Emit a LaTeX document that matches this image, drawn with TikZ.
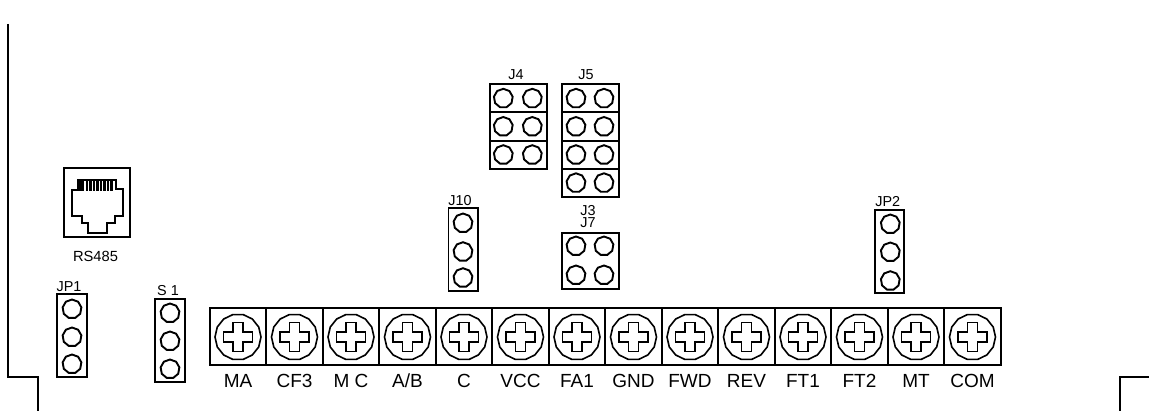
\documentclass[tikz,border=0pt]{standalone}
\usepackage{fontspec}
\setmainfont{Liberation Sans}
\usetikzlibrary{shapes, positioning, calc}
\tikzstyle{outline} = [draw, line width=2pt]
\tikzstyle{header} = [rectangle, draw, line width=1.9pt, inner sep=0pt, outer sep=0pt, minimum width=57pt, minimum height=28.3pt]
\tikzstyle{strip} = [rectangle, draw, line width=1.9pt, inner sep=0pt, outer sep=0pt, minimum width=29.5pt, minimum height=83pt]
\tikzstyle{cell} = [rectangle, draw, line width=1.9pt, inner sep=0pt, outer sep=0pt, minimum width=56.5pt, minimum height=57pt]
\tikzstyle{pin} = [regular polygon, regular polygon sides=9, draw, line width=1.9pt, inner sep=0pt, minimum size=19pt]
\tikzstyle{screw} = [regular polygon, regular polygon sides=14, draw, line width=1.6pt, inner sep=0pt, minimum size=46pt]
\tikzstyle{tiny} = [inner sep=0pt, font=\fontsize{14.4}{14.4}\selectfont, text height=10.3pt, text depth=0pt]
\tikzstyle{term} = [inner sep=0pt, font=\fontsize{19}{19}\selectfont, text height=13.6pt, text depth=0pt]

\begin{document}
\begin{tikzpicture}[x=1pt, y=-1pt]
    \useasboundingbox (0,0) rectangle (1149,411);

    % board edge
    \draw [outline] (8,24) -- (8,376.7) -- (38,376.7) -- (38,411);
    \draw [outline] (1149,376.7) -- (1120,376.7) -- (1120,411);

    % RS485 jack
    \node (jack) [rectangle, draw, line width=2pt, inner sep=0pt, minimum width=66pt, minimum height=69pt] at (97,202.5) {};
    \draw [line width=2pt] (71.7,190) -- (78.3,190) -- (78.3,180) -- (116,180) -- (116,189) -- (123.3,189) -- (123.3,215.7) -- (115,215.7) -- (115,223.3) -- (107.3,223.3) -- (107.3,232.7) -- (88.3,232.7) -- (88.3,223.3) -- (81.7,223.3) -- (81.7,215.7) -- (71.7,215.7) -- cycle;
    \foreach \tx in {80,81.5,83,87,90.5,94,97.5,101,104.5,108,111.5} {
        \draw [line width=2.3pt] (\tx,180) -- (\tx,191);
    }
    \node (rs485) [tiny, font=\fontsize{14.7}{14.7}\selectfont] at (95.5,256) {RS485};

    % three pin strips
    \foreach \nm/\bx/\by/\px/\pa/\pb/\pc/\lx/\ly in {JP1/72/335.7/72/309/337/364/69/286.5, S 1/170/340.7/170/313/341/369/168/290.7, J10/463.2/249.5/463/223/251.7/277.7/460/200, JP2/889.3/251.7/890.3/224/252/280.7/887.7/201.7} {
        \node (strip\nm) [strip] at (\bx,\by) {};
        \node (pin\nm a) [pin] at (\px,\pa) {};
        \node (pin\nm b) [pin] at (\px,\pb) {};
        \node (pin\nm c) [pin] at (\px,\pc) {};
        \node (label\nm) [tiny] at (\lx,\ly) {\nm};
    }

    % J4
    \foreach \py [count=\i] in {98.3,126.5,154.7} {
        \node (rowJfour\i) [header] at (518.3,\py) {};
        \node (pinJfour\i a) [pin] at (503.3,\py) {};
        \node (pinJfour\i b) [pin] at (532.3,\py) {};
    }
    \node (labelJfour) [tiny] at (516,74) {J4};

    % J5
    \foreach \py [count=\i] in {98.3,126.5,154.7,182.8} {
        \node (rowJfive\i) [header] at (590.3,\py) {};
        \node (pinJfive\i a) [pin] at (576,\py) {};
        \node (pinJfive\i b) [pin] at (604,\py) {};
    }
    \node (labelJfive) [tiny] at (586,74) {J5};

    % J3 / J7
    \node (boxJseven) [header, minimum height=56.3pt] at (590.3,260.8) {};
    \foreach \py [count=\i] in {246,275} {
        \node (pinJseven\i a) [pin] at (576,\py) {};
        \node (pinJseven\i b) [pin] at (604,\py) {};
    }
    \node (labelJthree) [tiny] at (588,210) {J3};
    \node (labelJseven) [tiny] at (588,222) {J7};

    % Terminal block
    \foreach \lab [count=\i from 0] in {MA,CF3,M C,A/B,C,VCC,FA1,GND,FWD,REV,FT1,FT2,MT,COM} {
        \pgfmathsetmacro{\cx}{238+56.5*\i}
        \node (cell\i) [cell] at (\cx,336.5) {};
        \node (screw\i) [screw] at (\cx,337) {};
        \draw [line width=1.5pt, shift={(screw\i)}] (-4.8,-14.5) -- (4.8,-14.5) -- (4.8,-4.8) -- (14.5,-4.8) -- (14.5,4.8) -- (4.8,4.8) -- (4.8,14.5) -- (-4.8,14.5) -- (-4.8,4.8) -- (-14.5,4.8) -- (-14.5,-4.8) -- (-4.8,-4.8) -- cycle;
        \node (term\i) [term] at (\cx,381) {\lab};
    }
\end{tikzpicture}
\end{document}
